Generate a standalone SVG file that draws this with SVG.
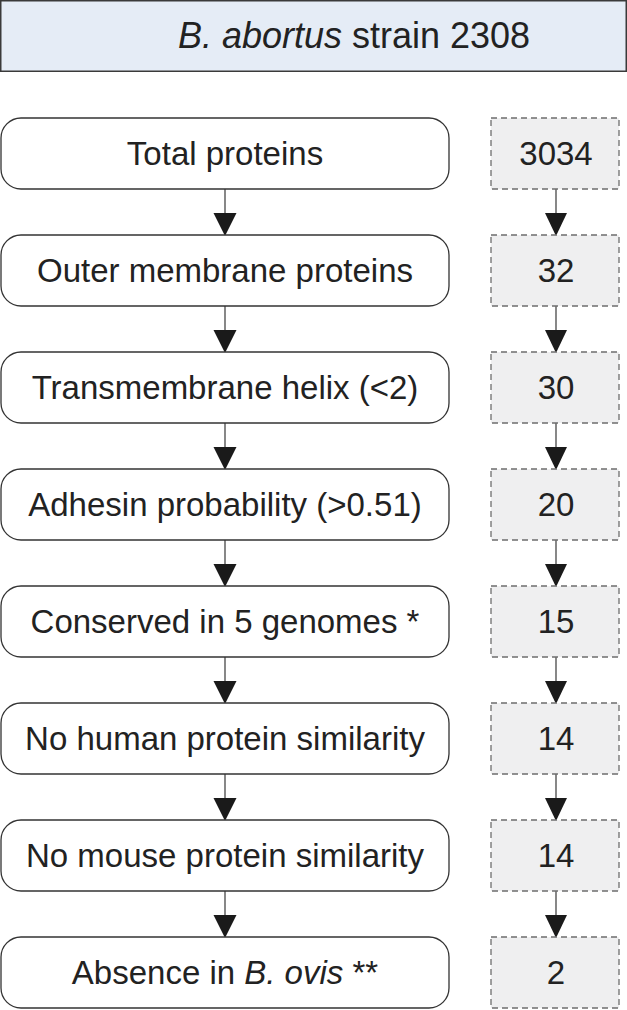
<svg xmlns="http://www.w3.org/2000/svg" width="627" height="1010" viewBox="0 0 627 1010">
<defs>
<style>
.hdr{fill:#e5ecf6;stroke:#3a3a3a;stroke-width:1.5}
.step{fill:#ffffff;stroke:#333;stroke-width:1.3}
.cnt{fill:#efeff0;stroke:#6e6e6e;stroke-width:1.3;stroke-dasharray:6 4}
.t{font-family:"Liberation Sans",Arial,sans-serif;font-size:33px;fill:#222;text-anchor:middle}
.h{font-family:"Liberation Sans",Arial,sans-serif;font-size:36px;fill:#222;text-anchor:middle}
.ln{stroke:#555;stroke-width:1.4;fill:none}
.ah{fill:#1a1a1a}
</style>
</defs>
<g id="header">
<rect class="hdr" x="0.75" y="0.75" width="625.5" height="70.5"/>
<text class="h" x="354" y="47.5"><tspan font-style="italic">B. abortus</tspan> strain 2308</text>
</g>
<g id="connectors">
<g id="c-left">
<line class="ln" x1="225" y1="189" x2="225" y2="214"/><polygon class="ah" points="213.5,213 236.5,213 225,236"/>
<line class="ln" x1="225" y1="306" x2="225" y2="331"/><polygon class="ah" points="213.5,330 236.5,330 225,353"/>
<line class="ln" x1="225" y1="423" x2="225" y2="448"/><polygon class="ah" points="213.5,447 236.5,447 225,470"/>
<line class="ln" x1="225" y1="540" x2="225" y2="565"/><polygon class="ah" points="213.5,564 236.5,564 225,587"/>
<line class="ln" x1="225" y1="657" x2="225" y2="682"/><polygon class="ah" points="213.5,681 236.5,681 225,704"/>
<line class="ln" x1="225" y1="774" x2="225" y2="799"/><polygon class="ah" points="213.5,798 236.5,798 225,821"/>
<line class="ln" x1="225" y1="891" x2="225" y2="916"/><polygon class="ah" points="213.5,915 236.5,915 225,938"/>
</g>
<g id="c-right">
<line class="ln" x1="556" y1="189" x2="556" y2="214"/><polygon class="ah" points="545,213 567,213 556,236"/>
<line class="ln" x1="556" y1="306" x2="556" y2="331"/><polygon class="ah" points="545,330 567,330 556,353"/>
<line class="ln" x1="556" y1="423" x2="556" y2="448"/><polygon class="ah" points="545,447 567,447 556,470"/>
<line class="ln" x1="556" y1="540" x2="556" y2="565"/><polygon class="ah" points="545,564 567,564 556,587"/>
<line class="ln" x1="556" y1="657" x2="556" y2="682"/><polygon class="ah" points="545,681 567,681 556,704"/>
<line class="ln" x1="556" y1="774" x2="556" y2="799"/><polygon class="ah" points="545,798 567,798 556,821"/>
<line class="ln" x1="556" y1="891" x2="556" y2="916"/><polygon class="ah" points="545,915 567,915 556,938"/>
</g>
</g>
<g id="step1"><rect class="step" x="1" y="118" width="448" height="71" rx="20"/><text class="t" x="225" y="165">Total proteins</text></g>
<g id="step2"><rect class="step" x="1" y="235" width="448" height="71" rx="20"/><text class="t" x="225" y="282">Outer membrane proteins</text></g>
<g id="step3"><rect class="step" x="1" y="352" width="448" height="71" rx="20"/><text class="t" x="225" y="399">Transmembrane helix (&lt;2)</text></g>
<g id="step4"><rect class="step" x="1" y="469" width="448" height="71" rx="20"/><text class="t" x="225" y="516">Adhesin probability (&gt;0.51)</text></g>
<g id="step5"><rect class="step" x="1" y="586" width="448" height="71" rx="20"/><text class="t" x="225" y="633">Conserved in 5 genomes *</text></g>
<g id="step6"><rect class="step" x="1" y="703" width="448" height="71" rx="20"/><text class="t" x="225" y="750">No human protein similarity</text></g>
<g id="step7"><rect class="step" x="1" y="820" width="448" height="71" rx="20"/><text class="t" x="225" y="867">No mouse protein similarity</text></g>
<g id="step8"><rect class="step" x="1" y="937" width="448" height="71" rx="20"/><text class="t" x="225" y="984">Absence in <tspan font-style="italic">B. ovis</tspan> **</text></g>
<g id="count1"><rect class="cnt" x="491" y="118" width="128" height="71"/><text class="t" x="556" y="165">3034</text></g>
<g id="count2"><rect class="cnt" x="491" y="235" width="128" height="71"/><text class="t" x="556" y="282">32</text></g>
<g id="count3"><rect class="cnt" x="491" y="352" width="128" height="71"/><text class="t" x="556" y="399">30</text></g>
<g id="count4"><rect class="cnt" x="491" y="469" width="128" height="71"/><text class="t" x="556" y="516">20</text></g>
<g id="count5"><rect class="cnt" x="491" y="586" width="128" height="71"/><text class="t" x="556" y="633">15</text></g>
<g id="count6"><rect class="cnt" x="491" y="703" width="128" height="71"/><text class="t" x="556" y="750">14</text></g>
<g id="count7"><rect class="cnt" x="491" y="820" width="128" height="71"/><text class="t" x="556" y="867">14</text></g>
<g id="count8"><rect class="cnt" x="491" y="937" width="128" height="71"/><text class="t" x="556" y="984">2</text></g>
</svg>
